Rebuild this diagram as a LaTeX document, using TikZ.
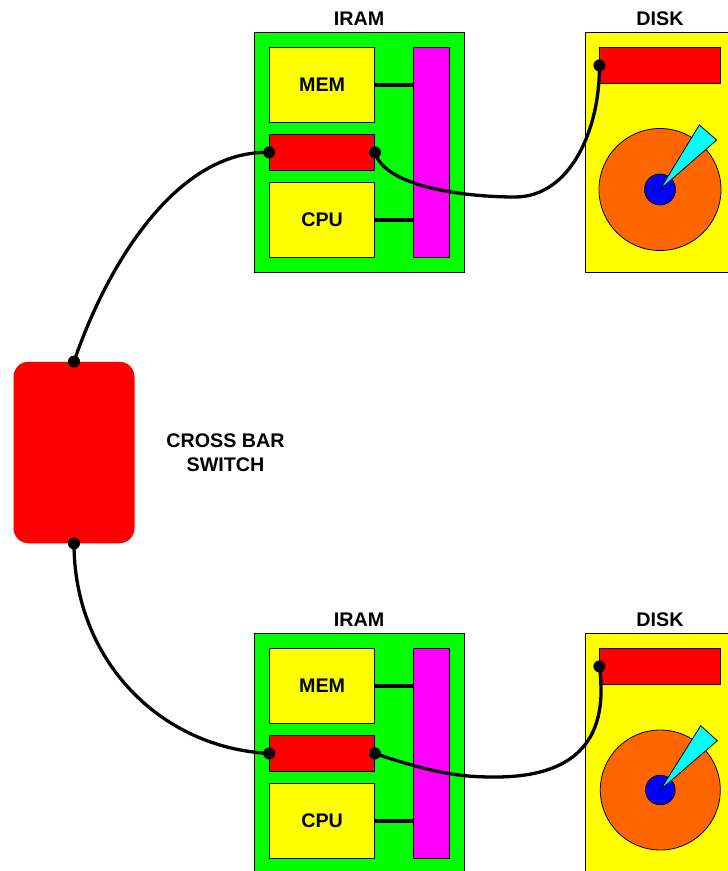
\documentclass[tikz,border=0pt]{standalone}
\usepackage{fontspec}
\setmainfont{Liberation Sans}
\definecolor{cgreen}{RGB}{0,255,0}
\definecolor{cyellow}{RGB}{255,255,0}
\definecolor{cred}{RGB}{255,0,0}
\definecolor{cmag}{RGB}{255,0,255}
\definecolor{ccyan}{RGB}{0,255,255}
\definecolor{cblue}{RGB}{0,0,255}
\definecolor{corange}{RGB}{255,102,0}
\tikzset{
  lbl/.style={font=\fontsize{19.7}{23}\selectfont\bfseries, text=black, inner sep=0pt, align=center},
  box/.style={draw=black, line width=0.8pt, inner sep=0pt, anchor=north west},
  link/.style={line width=3.3pt, black},
  jdot/.style={circle, fill=black, inner sep=0pt, minimum size=12pt},
  ctr/.style={circle, draw=black, line width=0.8pt, inner sep=0pt},
}
\newcommand{\rbox}[7]{% name, x, y, w, h, colour, text
  \node[box, fill=#6, minimum width=#4pt, minimum height=#5pt, lbl] (#1) at (#2,#3) {#7};}
\begin{document}
\begin{tikzpicture}[x=1pt,y=-1pt]
\useasboundingbox (0,0) rectangle (728,871);
\begin{scope}
\clip (0,0) rectangle (728,871);
\foreach \t/\dy/\tx/\ty/\hr/\ax/\ay/\bx/\by/\dcx/\dcy/\dr in {
  a/0/660/189.5/15.5/699.3/125/716.7/140/660/189.5/61,
  b/601/660.3/790/14.8/700.7/725.7/717.3/740.7/660.3/790/60}{
  \rbox{iram\t}{254}{32+\dy}{210.3}{240}{cgreen}{}
  \rbox{mem\t}{269.2}{46.8+\dy}{105}{75.4}{cyellow}{MEM}
  \rbox{nic\t}{269.2}{134+\dy}{105}{36}{cred}{}
  \rbox{cpu\t}{269.2}{182+\dy}{105}{75.4}{cyellow}{CPU}
  \rbox{bus\t}{413.2}{46.8+\dy}{36}{210.5}{cmag}{}
  \draw[line width=3.3pt] (mem\t.east) -- (mem\t.east -| bus\t.west);
  \draw[line width=3.3pt] (cpu\t.east) -- (cpu\t.east -| bus\t.west);
  \rbox{disk\t}{584.7}{32+\dy}{180}{240}{cyellow}{}
  \rbox{ctl\t}{599.4}{46.8+\dy}{120.6}{36.4}{cred}{}
  \node[ctr, fill=corange, minimum size={2*\dr}] (plat\t) at (\dcx,\dcy) {};
  \node[ctr, fill=cblue, minimum size={2*\hr}] (hub\t) at (\tx,\ty) {};
  \draw[black, line width=0.8pt, fill=ccyan, line join=miter] (hub\t.center) -- (\ax,\ay) -- (\bx,\by) -- cycle;
  \node[lbl] (iramlbl\t) at (359,18.5+\dy) {IRAM};
  \node[lbl] (disklbl\t) at (660,18.5+\dy) {DISK};
  \node[jdot] (nicl\t) at (nic\t.west) {};
  \node[jdot] (nicr\t) at (nic\t.east) {};
  \node[jdot] (ctld\t) at (ctl\t.west) {};
}
\end{scope}
\node[draw=none, fill=cred, rounded corners=15pt, minimum width=121pt, minimum height=181.5pt, inner sep=0pt] (xbar) at (74,452.5) {};
\node[jdot] (xtop) at (xbar.north) {};
\node[jdot] (xbot) at (xbar.south) {};
\node[lbl] (xlbl) at (225.5,453) {CROSS BAR\\[1pt]SWITCH};
\draw[link] (nicla.center) .. controls (178,150) and (108,262) .. (xtop.center);
\draw[link] (nicra.center) .. controls (385,187) and (465,197) .. (515,197)
  .. controls (570,197) and (600,130) .. (ctlda.center);
\draw[link] (xbot.center) .. controls (74,660) and (160,748) .. (niclb.center);
\draw[link] (nicrb.center) .. controls (440,776) and (470,777) .. (495,777)
  .. controls (570,777) and (610,745) .. (ctldb.center);
\end{tikzpicture}
\end{document}
